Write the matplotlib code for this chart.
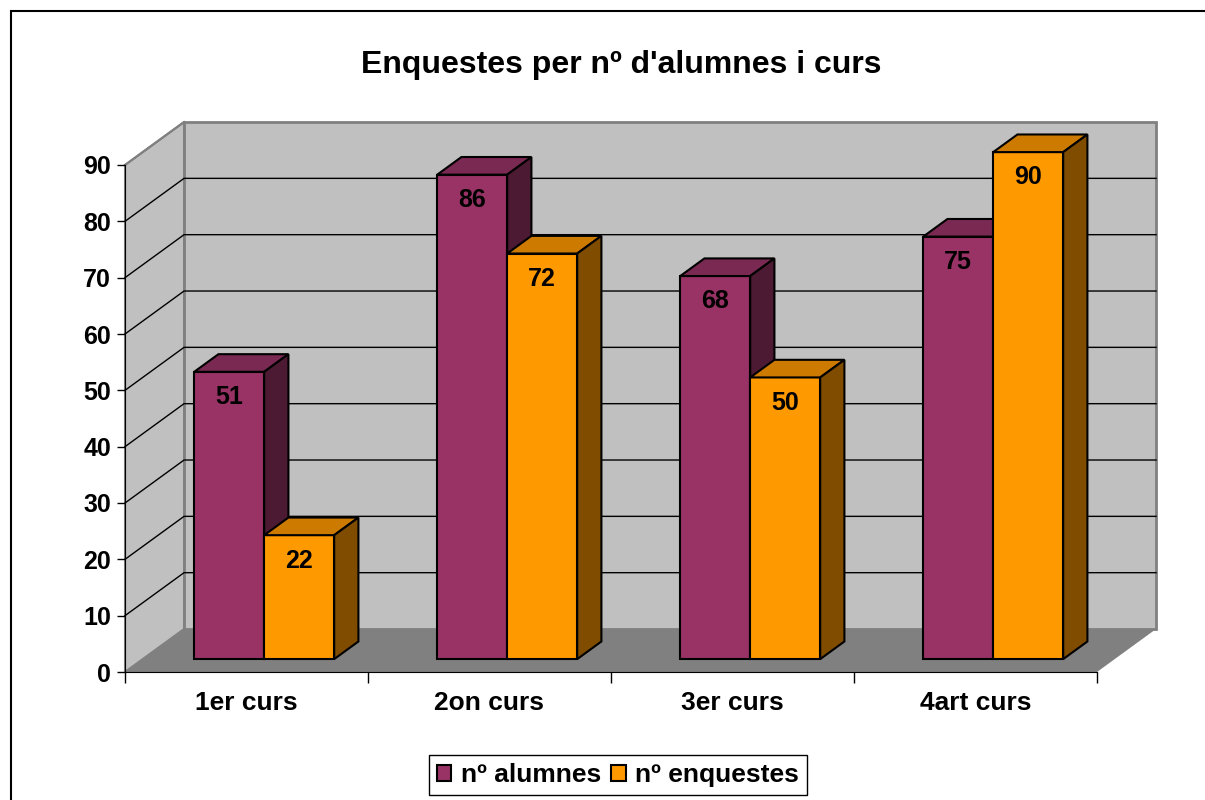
import matplotlib.pyplot as plt
from matplotlib.patches import Polygon, Patch, Rectangle

plt.rcParams['font.family'] = ['Liberation Sans', 'DejaVu Sans']
plt.rcParams['font.weight'] = 'bold'

cursos = ['1er curs', '2on curs', '3er curs', '4art curs']
alumnes = [51, 86, 68, 75]
enquestes = [22, 72, 50, 90]
series = ['nº alumnes', 'nº enquestes']
y_ticks = list(range(0, 100, 10))

# front, top, side colours
colors = [('#993366', '#7a2952', '#4d1a33'),
          ('#ff9900', '#cc7a00', '#7f4c00')]

# 3d depth of the whole plot, in data units
DX, DY = 0.243, 7.63
Z0, Z1 = 0.30, 0.71      # bar depth (fraction of total depth)
BW = 0.288               # bar width


def off(x, y, z):
    return (x + z * DX, y + z * DY)


def face(ax, pts, fc, ec='black', lw=1.5, zorder=3):
    ax.add_patch(Polygon(pts, closed=True, facecolor=fc, edgecolor=ec,
                         linewidth=lw, zorder=zorder, clip_on=False,
                         joinstyle='miter'))


def bar3d(ax, x0, h, cols, zorder):
    x1 = x0 + BW
    front, top, side = cols
    face(ax, [off(x0, 0, Z0), off(x1, 0, Z0), off(x1, h, Z0), off(x0, h, Z0)],
         front, zorder=zorder)
    face(ax, [off(x0, h, Z0), off(x1, h, Z0), off(x1, h, Z1), off(x0, h, Z1)],
         top, zorder=zorder)
    face(ax, [off(x1, 0, Z0), off(x1, 0, Z1), off(x1, h, Z1), off(x1, h, Z0)],
         side, zorder=zorder)


fig = plt.figure(figsize=(12.05, 8), dpi=100)
fig.patches.append(Rectangle((11 / 1205, -0.05), 1.2, 1 - 11 / 800 + 0.05,
                             transform=fig.transFigure, fill=False,
                             edgecolor='black', linewidth=1.5))

ax = fig.add_axes([125 / 1205, 128 / 800, 972 / 1205, 507 / 800])
n = len(cursos)
ax.set_xlim(0, n)
ax.set_ylim(0, 90)
ax.patch.set_visible(False)
for s in ['top', 'right']:
    ax.spines[s].set_visible(False)
ax.spines['left'].set_color('black')
ax.spines['bottom'].set_color('black')
ax.spines['left'].set_zorder(6)
ax.spines['bottom'].set_zorder(6)

# walls and floor
ymax = y_ticks[-1]
face(ax, [off(0, 0, 1), off(n, 0, 1), off(n, ymax, 1), off(0, ymax, 1)],
     '#c0c0c0', ec='#808080', lw=2, zorder=0)
face(ax, [(0, 0), (0, ymax), off(0, ymax, 1), off(0, 0, 1)],
     '#c0c0c0', ec='#808080', lw=1.5, zorder=0)
face(ax, [(0, 0), (n, 0), off(n, 0, 1), off(0, 0, 1)],
     '#808080', ec='none', lw=0, zorder=0.5)

for v in y_ticks[1:-1]:
    p0, p1, p2 = (0, v), off(0, v, 1), off(n, v, 1)
    ax.plot([p0[0], p1[0], p2[0]], [p0[1], p1[1], p2[1]], color='black',
            linewidth=1, zorder=1, clip_on=False)
p0, p1 = (0, ymax), off(0, ymax, 1)
ax.plot([p0[0], p1[0]], [p0[1], p1[1]], color='#808080', linewidth=1.5,
        zorder=1, clip_on=False)

# bars
for i in range(n):
    for j, vals in enumerate([alumnes, enquestes]):
        x0 = i + 0.5 - BW + j * BW
        bar3d(ax, x0, vals[i], colors[j], zorder=3 + i * 2 + j * 0.5)
        lx, ly = off(x0 + BW / 2, vals[i], Z0)
        ax.text(lx, ly - 4.5, str(vals[i]), ha='center', va='center',
                fontsize=18, fontweight='bold', zorder=20, clip_on=False)

ax.set_yticks(y_ticks)
ax.set_yticklabels([str(v) for v in y_ticks], fontsize=18, fontweight='bold')
ax.tick_params(axis='y', length=6, width=1, pad=4)
ax.set_xticks(range(n + 1))
ax.set_xticklabels([])
ax.tick_params(axis='x', which='major', length=8, width=1)
ax.set_xticks([i + 0.5 for i in range(n)], minor=True)
ax.set_xticklabels(cursos, minor=True, fontsize=19, fontweight='bold')
ax.tick_params(axis='x', which='minor', length=0, pad=14)

fig.text(621 / 1205, 1 - 65 / 800, "Enquestes per nº d'alumnes i curs",
         ha='center', va='center', fontsize=23, fontweight='bold')

handles = [Patch(facecolor=c[0], edgecolor='black', linewidth=1.5)
           for c in colors]
leg = fig.legend(handles, series, loc='center', ncol=2,
                 bbox_to_anchor=(618 / 1205, 25 / 800), fancybox=False,
                 edgecolor='black', framealpha=1, handlelength=0.55,
                 handleheight=0.55, handletextpad=0.35, columnspacing=0.4,
                 borderpad=0.3, borderaxespad=0,
                 prop={'size': 19, 'weight': 'bold'})
leg.get_frame().set_linewidth(1)

fig.savefig('out.png', dpi=100)
